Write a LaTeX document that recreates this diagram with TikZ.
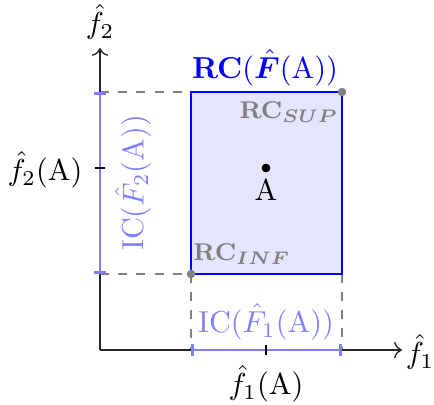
\documentclass[tikz,border=0pt]{standalone}
\usepackage{amsmath,amssymb,bm}
\usetikzlibrary{arrows.meta}
\begin{document}
\begin{tikzpicture}[x=0.33pt,y=-0.33pt,
  axis/.style={->,>=To,black!85,line width=0.45pt},
  guide/.style={dashed,gray,line width=0.45pt},
  interval/.style={blue!50,line width=0.9pt,{Bar[width=4.2pt]}-{Bar[width=4.2pt]}},
  dot/.style={circle,fill=gray,inner sep=0pt,minimum size=2.8pt},
  corner/.style={gray,inner sep=1pt,font=\footnotesize},
  lbl/.style={inner sep=1pt}]
\useasboundingbox (0,0) rectangle (434,405);
% coordinates
\coordinate (O) at (100,350);
\coordinate (xe) at (402,350);
\coordinate (ye) at (100,48);
\coordinate (inf) at (191,274);
\coordinate (sup) at (342,92);
\coordinate (infx) at (191,350);
\coordinate (supx) at (342,350);
\coordinate (infy) at (100,274);
\coordinate (supy) at (100,92);
\coordinate (pa) at (266,168);
% dashed guides
\draw[guide] (supy) -- (191,92);
\draw[guide] (infy) -- (inf);
\draw[guide] (inf) -- (infx);
\draw[guide] (sup) -- (supx);
% rectangle
\draw[blue,fill=blue!10,line width=0.7pt] (inf) rectangle (sup);
% axes
\draw[axis] (O) -- (xe);
\draw[axis] (O) -- (ye);
\node[lbl] (xl) at (420,352) {$\hat{f}_1$};
\node[lbl] (yl) at (100,22) {$\hat{f}_2$};
% intervals
\draw[interval] (infx) -- (supx);
\draw[interval] (infy) -- (supy);
% ticks
\draw[black,line width=0.45pt] (266,345) -- (266,355);
\draw[black,line width=0.45pt] (95,168) -- (105,168);
\node[lbl] (xa) at (266,384) {$\hat{f}_1(\mathrm{A})$};
\node[lbl,anchor=east] (ya) at (86,170) {$\hat{f}_2(\mathrm{A})$};
% dots
\node[dot] (dinf) at (inf) {};
\node[dot] (dsup) at (sup) {};
\fill (pa) circle (4.4);
\node[lbl] (al) at (266,190) {A};
% labels
\node[corner] (rcsup) at (289,112) {\textbf{RC}$_{\boldsymbol{SUP}}$};
\node[corner] (rcinf) at (242,254) {\textbf{RC}$_{\boldsymbol{INF}}$};
\node[blue,lbl] (title) at (265,68) {\textbf{RC}$(\hat{\bm{F}}(\mathrm{A}))$};
\node[blue!50,lbl] (ic1) at (266,322) {IC$(\hat{F}_1(\mathrm{A}))$};
\node[blue!50,lbl,rotate=90] (ic2) at (133,183) {IC$(\hat{F}_2(\mathrm{A}))$};
\end{tikzpicture}
\end{document}
